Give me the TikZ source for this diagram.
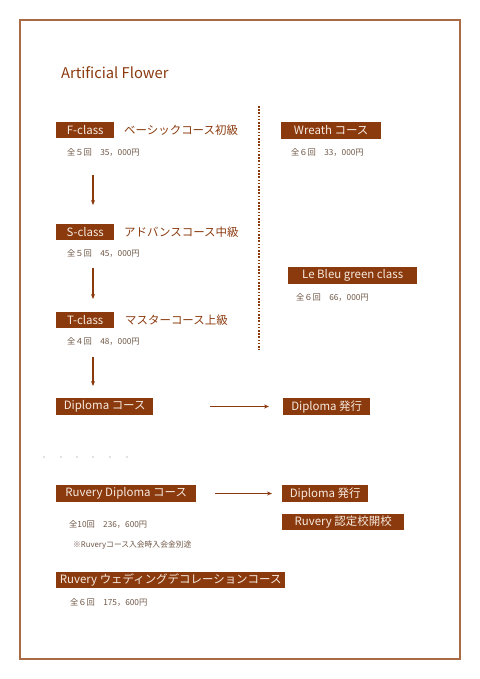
\documentclass[tikz,border=0pt]{standalone}
\usepackage{fontspec}
\setmainfont{Noto Sans CJK JP}
\usetikzlibrary{arrows.meta}
\definecolor{brn}{HTML}{8B3A0E}
\definecolor{cream}{HTML}{F6EADF}
\definecolor{framec}{HTML}{A86B45}
\definecolor{pricec}{HTML}{6E5646}
\definecolor{dotc}{HTML}{C8C0B8}
\tikzset{
  framebox/.style={draw=framec, line width=1.5bp},
  cbox/.style={fill=brn, text=cream, font=\fontsize{11.5}{12}\selectfont, inner sep=0pt, minimum height=16.5bp, anchor=west},
  side/.style={text=brn, font=\fontsize{11.5}{12}\selectfont, inner sep=0pt, anchor=west},
  price/.style={text=pricec, font=\fontsize{8.3}{9}\selectfont, inner sep=0pt, anchor=west},
  arr/.style={draw=brn, line width=1.3bp, -{Stealth[length=5bp,width=4bp]}},
  dotline/.style={draw=brn, line width=1.6bp, dash pattern=on 1.6bp off 1.6bp},
}
\begin{document}
\begin{tikzpicture}[x=1bp,y=-1bp]
\useasboundingbox (0,0) rectangle (480,679);
\draw[framebox] (20,20) rectangle (460,659);

\node[text=brn, font=\fontsize{14.8}{16}\selectfont, inner sep=0pt, anchor=west] (title) at (61,73) {Artificial Flower};

% left column
\node[cbox, minimum width=58bp] (fc) at (56,130) {F-class};
\node[side] (fct) at (124,130) {ベーシックコース初級};
\node[price] (fcp) at (67,152) {全５回　35，000円};

\node[cbox, minimum width=58bp] (sc) at (56,232) {S-class};
\node[side] (sct) at (124,232) {アドバンスコース中級};
\node[price] (scp) at (67,253) {全５回　45，000円};

\node[cbox, minimum width=58bp] (tc) at (56,320) {T-class};
\node[side] (tct) at (125,320) {マスターコース上級};
\node[price] (tcp) at (67,341) {全４回　48，000円};

\node[cbox, minimum width=97bp] (dc) at (56,406.5) {Diploma コース};
\node[cbox, minimum width=87bp] (dh) at (283,406.5) {Diploma 発行};

\coordinate (a1s) at (93,175); \coordinate (a1e) at (93,205);
\coordinate (a2s) at (93,268); \coordinate (a2e) at (93,299);
\coordinate (a3s) at (93,357); \coordinate (a3e) at (93,386);
\draw[arr] (a1s) -- (a1e);
\draw[arr] (a2s) -- (a2e);
\draw[arr] (a3s) -- (a3e);
\draw[arr, shorten <=57bp, shorten >=14bp] (dc.east) -- (dh.west);

% right column
\coordinate (dl1) at (259,106); \coordinate (dl2) at (259,350);
\draw[dotline] (dl1) -- (dl2);
\node[cbox, minimum width=100bp] (wr) at (281,130.5) {Wreath コース};
\node[price] (wrp) at (291,152) {全６回　33，000円};
\node[cbox, minimum width=129bp] (lb) at (288,275.5) {Le Bleu green class};
\node[price] (lbp) at (296,297) {全６回　66，000円};

% dots row
\foreach \i/\xx in {1/44,2/61,3/77,4/93,5/110,6/127}{
  \fill[dotc] (\xx,457) circle (0.9bp);
}

% Ruvery
\node[cbox, minimum width=140bp] (rd) at (56,493.5) {Ruvery Diploma コース};
\node[cbox, minimum width=86bp] (rh) at (282,493.5) {Diploma 発行};
\draw[arr, shorten <=19bp, shorten >=10bp] (rd.east) -- (rh.west);
\node[cbox, minimum width=122bp] (rn) at (282,522) {Ruvery 認定校開校};
\node[price] (rdp) at (69,524) {全10回　236，600円};
\node[price, font=\fontsize{7.8}{9}\selectfont] (rnote) at (73,545) {※Ruveryコース入会時入会金別途};

\node[cbox, minimum width=229bp] (rw) at (56,580) {Ruvery ウェディングデコレーションコース};
\node[price] (rwp) at (70,602) {全６回　175，600円};
\end{tikzpicture}
\end{document}
